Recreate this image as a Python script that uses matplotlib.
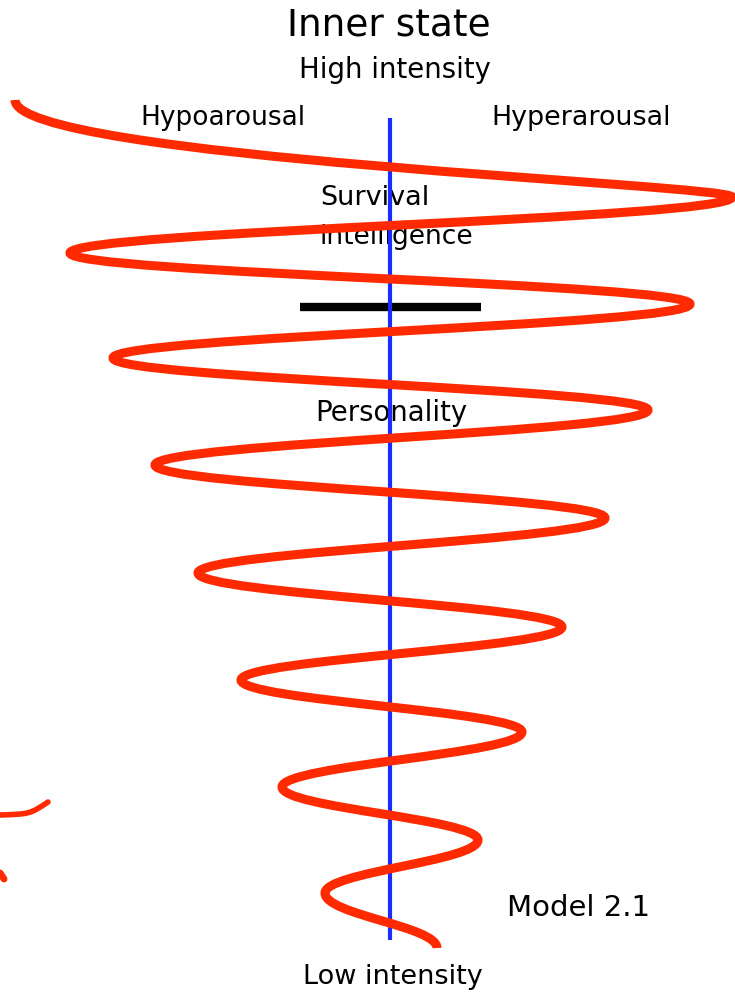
import matplotlib
matplotlib.use("Agg")
import matplotlib.pyplot as plt
from matplotlib.path import Path
from matplotlib.patches import PathPatch

# ---- data (pixel coordinates, y downward) ----
# turning points of the red wave, from top-left end to bottom end
turn_x = [15, 732, 70, 690, 113, 648, 155, 605, 198, 562, 241, 522, 282, 478, 325, 437]
turn_y = [100, 197, 253, 304, 358, 410, 465, 518, 573, 627, 680, 732, 787, 840, 893, 948]

# small red fragments at the left edge
frag_x = [0, 30, 48]
frag_y = [815, 814, 802]
dot_x = [0, 4]
dot_y = [873, 879]

axis_x = 390
axis_top, axis_bottom = 118, 940
bar_x = [300, 481]
bar_y = 307

labels = [
    ("Inner state", 389, 25, 27, "center"),
    ("High intensity", 395, 70, 19.8, "center"),
    ("Hypoarousal", 140, 118, 19, "left"),
    ("Hyperarousal", 491, 118, 19.4, "left"),
    ("Survival", 320, 198, 19.5, "left"),
    ("intelligence", 320, 237, 19.1, "left"),
    ("Personality", 315, 413, 19.8, "left"),
    ("Model 2.1", 507, 908, 21, "left"),
    ("Low intensity", 303, 977, 19.5, "left"),
]

RED = "#ff2a00"
BLUE = "#1a2cff"

fig = plt.figure(figsize=(7.35, 9.97), dpi=100)
ax = fig.add_axes([0, 0, 1, 1])
ax.set_xlim(0, 735)
ax.set_ylim(997, 0)
ax.axis("off")

# build smooth wave path: each half-wave is a cubic Bezier with vertical tangents at extremes
k = 0.40
verts = [(turn_x[0], turn_y[0])]
codes = [Path.MOVETO]
for i in range(len(turn_x) - 1):
    x1, y1, x2, y2 = turn_x[i], turn_y[i], turn_x[i + 1], turn_y[i + 1]
    dy = y2 - y1
    if i == 0:
        c1 = (x1, y1 + 0.6 * dy)
        c2 = (x2, y2 - 0.13 * dy)
    else:
        c1 = (x1, y1 + k * dy)
        c2 = (x2, y2 - k * dy)
    verts += [c1, c2, (x2, y2)]
    codes += [Path.CURVE4] * 3
ax.add_patch(PathPatch(Path(verts, codes), facecolor="none", edgecolor=RED,
                       lw=6.5, capstyle="butt", zorder=4))

# curved fragment at left edge
fverts = [(frag_x[0], frag_y[0]), (frag_x[1], frag_y[1]), (frag_x[1], frag_y[1]), (frag_x[2], frag_y[2])]
ax.add_patch(PathPatch(Path(fverts, [Path.MOVETO, Path.CURVE4, Path.CURVE4, Path.CURVE4]),
                       facecolor="none", edgecolor=RED, lw=4, capstyle="round", zorder=4))
ax.plot(dot_x, dot_y, color=RED, lw=5, solid_capstyle="round", zorder=4)

ax.plot([axis_x, axis_x], [axis_top, axis_bottom], color=BLUE, lw=3, zorder=3,
        solid_capstyle="butt")
ax.plot(bar_x, [bar_y, bar_y], color="black", lw=6, zorder=2, solid_capstyle="butt")

for txt, x, y, fs, ha in labels:
    ax.text(x, y, txt, fontsize=fs, ha=ha, va="center", color="black",
            family="DejaVu Sans", zorder=1)

fig.savefig("out.png", dpi=100)
